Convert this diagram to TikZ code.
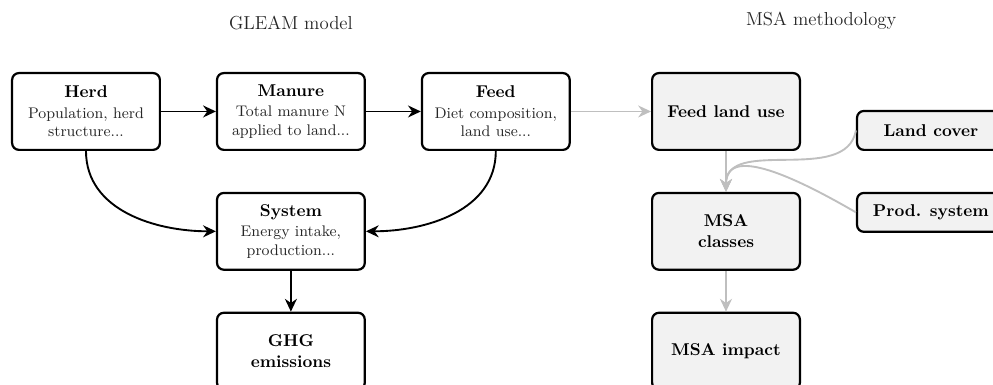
\documentclass[tikz,border=0pt]{standalone}
\usepackage{tikz}
\usetikzlibrary{positioning, shapes, arrows.meta}

\begin{document}
\begin{tikzpicture}[node distance=0.84cm and 1.13cm, every node/.style={font=\normalsize},
        box/.style={draw, rectangle, rounded corners=4pt, line width=1.3pt, align=center, minimum width=3.04cm, minimum height=1.58cm},
        gleambox/.style={box, font=\small, text=black!85},
        msabox/.style={box, fill=black!5, font=\bfseries},
        smallbox/.style={msabox, minimum height=0.8cm},
        title/.style={font=\fontsize{11}{13}\selectfont, text=black!85},
        flow/.style={-{Stealth[length=7.5pt, width=7pt]}, line width=1.1pt},
        msaflow/.style={flow, draw=black!25}]
        % Page (boxes are cut at the bottom and right)
        \useasboundingbox (-1.769,-5.626) rectangle (18.66,2.293);

        % GLEAM model
        \node (Herd) [gleambox] {\textcolor{black}{\normalsize\textbf{Herd}}\\[1pt] Population, herd\\ structure...};
        \node (Manure) [gleambox, right=of Herd] {\textcolor{black}{\normalsize\textbf{Manure}}\\[1pt] Total manure N\\ applied to land...};
        \node (Feed) [gleambox, right=of Manure] {\textcolor{black}{\normalsize\textbf{Feed}}\\[1pt] Diet composition,\\ land use...};
        \node (System) [gleambox, below=of Manure] {\textcolor{black}{\normalsize\textbf{System}}\\[1pt] Energy intake,\\ production...};
        \node (GHG) [box, below=of System, font=\bfseries] {GHG\\ emissions};

        % MSA methodology
        \node (LandUse) [msabox, right=1.65cm of Feed] {Feed land use};
        \node (MSAClasses) [msabox, below=of LandUse] {MSA\\ classes};
        \node (MSAImpact) [msabox, below=of MSAClasses] {MSA impact};
        \node (LandCover) [smallbox, right=of LandUse.south east, anchor=south west] {Land cover};
        \node (ProdSystem) [smallbox, right=of MSAClasses.north east, anchor=north west] {Prod. system};

        % Titles
        \node (GLEAMTitle) [title, above=0.75cm of Manure] {GLEAM model};
        \node (MSATitle) [title, above=0.75cm of LandUse, xshift=1.96cm] {MSA methodology};

        % Arrows
        \draw[flow] (Herd) -- (Manure);
        \draw[flow] (Manure) -- (Feed);
        \draw[flow] (Herd.south) to[out=-90, in=180] (System.west);
        \draw[flow] (Feed.south) to[out=-90, in=0] (System.east);
        \draw[flow] (System) -- (GHG);
        \draw[msaflow] (Feed) -- (LandUse);
        \draw[msaflow] (LandUse) -- (MSAClasses);
        \draw[msaflow] (MSAClasses) -- (MSAImpact);
        \draw[msaflow] (LandCover.west) to[out=-100, in=90] (MSAClasses.north);
        \draw[msaflow] (ProdSystem.west) to[out=150, in=90] (MSAClasses.north);
    \end{tikzpicture}
\end{document}
